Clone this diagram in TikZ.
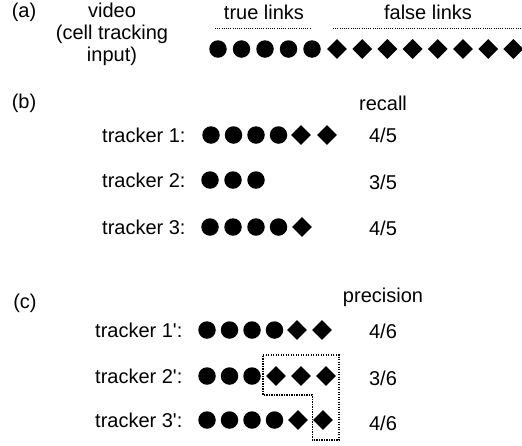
\documentclass[tikz,border=0pt]{standalone}
\usepackage{fontspec}
\setmainfont{Liberation Sans}[Ligatures=TeXOff]
\usetikzlibrary{shapes.geometric}
\begin{document}
\begin{tikzpicture}[x=1pt,y=-1pt,
  dot/.style={circle,fill=black,inner sep=0pt,minimum size=17.5pt},
  dia/.style={diamond,fill=black,inner sep=0pt,minimum size=20pt},
  lbl/.style={inner sep=0pt,font=\fontsize{20}{22}\selectfont},
  dotline/.style={line width=1pt,dash pattern=on 1pt off 1.2pt},
  boxline/.style={line width=1.1pt,dash pattern=on 1.2pt off 1.3pt}]
\useasboundingbox (0,0) rectangle (522,445);
% (a)
\node[lbl] (la) at (24,12) {(a)};
\node[lbl,align=center] (video) at (112,34) {video\\[0pt](cell tracking\\input)};
\node[lbl] (tl) at (264,12) {true links};
\node[lbl] (fl) at (428,12) {false links};
\coordinate (t1) at (215,28); \coordinate (t2) at (310,28);
\coordinate (f1) at (333,28); \coordinate (f2) at (522,28);
\draw[dotline] (t1) -- (t2);
\draw[dotline] (f1) -- (f2);
\foreach \i/\x in {1/218,2/241.5,3/265,4/288.5,5/312}
  \node[dot] (ac\i) at (\x,49) {};
\foreach \i in {0,...,7}
  \node[dia] (ad\i) at ({337+25.2*\i},49) {};
% (b)
\node[lbl] (lb) at (24,103) {(b)};
\node[lbl] (recall) at (383,103) {recall};
\node[lbl,anchor=west] (tr1) at (102,135) {tracker 1:};
\node[lbl,anchor=west] (tr2) at (102,180) {tracker 2:};
\node[lbl,anchor=west] (tr3) at (102,227) {tracker 3:};
\foreach \i/\x in {1/211,2/233.5,3/256,4/278.5}
  \node[dot] (b1c\i) at (\x,135) {};
\node[dia] (b1d1) at (301,135) {};
\node[dia] (b1d2) at (327,135) {};
\foreach \i/\x in {1/210,2/233,3/256}
  \node[dot] (b2c\i) at (\x,180) {};
\foreach \i/\x in {1/210,2/233,3/256,4/278.5}
  \node[dot] (b3c\i) at (\x,227) {};
\node[dia] (b3d1) at (302,227) {};
\node[lbl] (r1) at (383,135) {4/5};
\node[lbl] (r2) at (383,182) {3/5};
\node[lbl] (r3) at (383,228) {4/5};
% (c)
\node[lbl] (lc) at (25,303) {(c)};
\node[lbl] (prec) at (383,297) {precision};
\node[lbl,anchor=west] (tp1) at (95,330) {tracker 1':};
\node[lbl,anchor=west] (tp2) at (95,376) {tracker 2':};
\node[lbl,anchor=west] (tp3) at (95,420) {tracker 3':};
\foreach \i/\x in {1/207,2/229.5,3/252,4/274.5}
  \node[dot] (c1c\i) at (\x,330) {};
\node[dia] (c1d1) at (297,330) {};
\node[dia] (c1d2) at (322,330) {};
\foreach \i/\x in {1/207,2/229.5,3/252}
  \node[dot] (c2c\i) at (\x,376) {};
\foreach \i/\x in {1/276,2/301,3/326}
  \node[dia] (c2d\i) at (\x,376) {};
\foreach \i/\x in {1/207,2/229.5,3/252,4/274.5}
  \node[dot] (c3c\i) at (\x,420) {};
\node[dia] (c3d1) at (298,420) {};
\node[dia] (c3d2) at (323,420) {};
\node[lbl] (p1) at (383,331) {4/6};
\node[lbl] (p2) at (383,378) {3/6};
\node[lbl] (p3) at (383,423) {4/6};
% dotted box
\coordinate (bA) at (263,355); \coordinate (bB) at (339,355);
\coordinate (bC) at (339,440); \coordinate (bD) at (312.5,440);
\coordinate (bE) at (312.5,395); \coordinate (bF) at (263,395);
\draw[boxline] (bA) -- (bB) -- (bC) -- (bD) -- (bE) -- (bF) -- cycle;
\end{tikzpicture}
\end{document}
